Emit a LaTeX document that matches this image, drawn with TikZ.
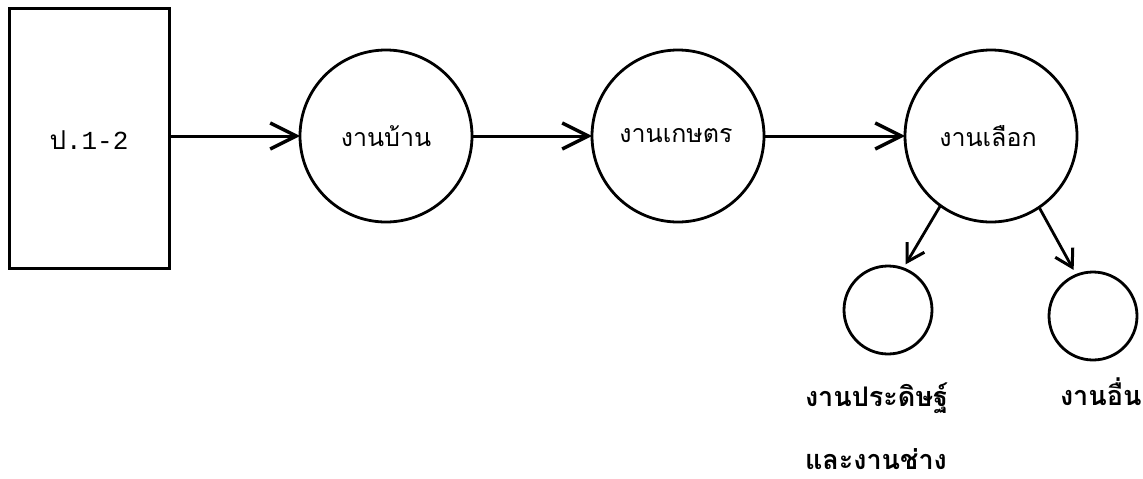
\documentclass[tikz,border=0pt]{standalone}
\usepackage{fontspec}
\usetikzlibrary{arrows.meta}
\newfontfamily\thai[Script=Thai]{Loma}
\newfontfamily\monof{Liberation Mono}
\begin{document}
\begin{tikzpicture}[x=1pt,y=-1pt,
  every node/.style={inner sep=0pt,outer sep=0pt},
  boxnode/.style={draw,line width=3pt,rectangle,minimum width=160pt,minimum height=260pt},
  bigcirc/.style={draw,line width=2.8pt,circle,minimum size=172pt},
  smallcirc/.style={draw,line width=2.8pt,circle,minimum size=88pt},
  inner/.style={font=\thai\fontsize{25}{30}\selectfont},
  lab/.style={font=\thai\bfseries\fontsize{27}{32}\selectfont,anchor=base west},
  bigarr/.style={line width=3pt,-{Straight Barb[length=26pt,width=26pt,line width=3.4pt]}},
  smallarr/.style={line width=2.8pt,-{Straight Barb[length=17pt,width=20pt,line width=3pt]}}
]
\useasboundingbox (0,0) rectangle (1143,479);
\fill[white] (0,0) rectangle (1143,479);
\node[boxnode] (rect) at (89,138) {};
\node[font=\fontsize{26}{30}\selectfont] (rtext) at (89,140) {{\thai ป}\monof .1-2};
\node[bigcirc] (c1) at (386,136) {};
\node[inner] (t1) at (386,136) {งานบ้าน};
\node[bigcirc] (c2) at (678,136) {};
\node[inner] (t2) at (676,136) {งานเกษตร};
\node[bigcirc] (c3) at (991,136) {};
\node[inner] (t3) at (988,136) {งานเลือก};
\node[smallcirc] (s1) at (888,310) {};
\node[smallcirc] (s2) at (1093,316) {};
\draw[bigarr] (rect.east |- c1.west) -- (c1.west);
\draw[bigarr] (c1.east) -- (c2.west);
\draw[bigarr] (c2.east) -- (c3.west);
\draw[smallarr,shorten >=5pt] (c3.-126) -- (s1.70);
\draw[smallarr,shorten >=6pt] (c3.-56) -- (s2.112);
\node[lab] (l1) at (805,406) {งานประดิษฐ์};
\node[lab] (l2) at (805,469) {และงานช่าง};
\node[lab] (l3) at (1060,405) {งานอื่น};
\end{tikzpicture}
\end{document}
